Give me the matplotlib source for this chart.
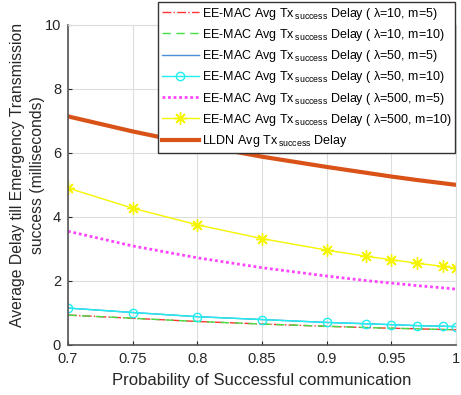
import numpy as np
import matplotlib.pyplot as plt

plt.rcParams['font.family'] = ['Liberation Sans', 'DejaVu Sans']
plt.rcParams['mathtext.fontset'] = 'custom'
plt.rcParams['mathtext.rm'] = 'Liberation Sans'
plt.rcParams['mathtext.it'] = 'Liberation Sans'

# Data
p = [0.7, 0.75, 0.8, 0.85, 0.9, 0.93, 0.95, 0.97, 0.99, 1.0]
ee_10_5 = [0.93, 0.83, 0.73, 0.65, 0.58, 0.54, 0.52, 0.50, 0.48, 0.47]
ee_10_10 = [0.93, 0.83, 0.73, 0.65, 0.58, 0.54, 0.52, 0.50, 0.48, 0.47]
ee_50_5 = [1.15, 1.01, 0.88, 0.79, 0.70, 0.66, 0.63, 0.60, 0.58, 0.57]
ee_50_10 = [1.15, 1.01, 0.88, 0.79, 0.70, 0.66, 0.63, 0.60, 0.58, 0.57]
ee_500_5 = [3.55, 3.09, 2.72, 2.41, 2.15, 2.01, 1.93, 1.85, 1.78, 1.74]
ee_500_10 = [4.90, 4.27, 3.75, 3.32, 2.96, 2.77, 2.66, 2.55, 2.45, 2.40]
lldn = [7.14, 6.67, 6.25, 5.88, 5.56, 5.38, 5.26, 5.15, 5.05, 5.00]

fig = plt.figure(figsize=(4.61, 3.95), dpi=100)
ax = fig.add_axes([0.1475, 0.127, 0.842, 0.81])

sub = r'Tx$\,_{\mathrm{success}}$'
tx = 'EE-MAC Avg ' + sub + r' Delay ( $\lambda$=%s, m=%s)'
ax.plot(p, ee_10_5, color='#ff3333', linestyle='-.', lw=1, label=tx % (10, 5))
ax.plot(p, ee_10_10, color='#44dd44', linestyle=(0, (6, 4)), lw=1, label=tx % (10, 10))
ax.plot(p, ee_50_5, color='#4a90d9', linestyle='-', lw=1, label=tx % (50, 5))
ax.plot(p, ee_50_10, color='#22eeee', linestyle='-', lw=1, marker='o', ms=6,
        mfc='none', mew=1, label=tx % (50, 10))
ax.plot(p, ee_500_5, color='#ff44ff', linestyle=(0, (1, 1)), lw=2, label=tx % (500, 5))
ax.plot(p, ee_500_10, color='#f5f500', linestyle='-', lw=1, marker=(8, 2, 0), ms=9,
        mew=1, label=tx % (500, 10))
ax.plot(p, lldn, color='#d95319', linestyle='-', lw=3,
        label='LLDN Avg ' + sub + ' Delay')

ax.set_xlim(0.7, 1.0)
ax.set_ylim(0, 10)
ax.set_xticks([0.7, 0.75, 0.8, 0.85, 0.9, 0.95, 1.0])
ax.set_xticklabels(['0.7', '0.75', '0.8', '0.85', '0.9', '0.95', '1'])
ax.set_yticks([0, 2, 4, 6, 8, 10])
ax.grid(True, color='#dddddd', lw=0.8)
ax.tick_params(labelsize=10.5, colors='#262626', direction='in', length=3, pad=5)
for s in ['left', 'bottom']:
    ax.spines[s].set_color('#555555')
    ax.spines[s].set_linewidth(1.2)
for s in ['top', 'right']:
    ax.spines[s].set_color('#dddddd')

ax.set_xlabel('Probability of Successful communication', fontsize=12,
              color='#262626', labelpad=5)
ax.set_ylabel('Average Delay till Emergency Transmission\nsuccess (milliseconds)',
              fontsize=11.3, color='#262626', linespacing=1.45)
ax.yaxis.set_label_coords(-0.058, 0.53)

leg = ax.legend(loc='upper right', bbox_to_anchor=(0.997, 1.072), fontsize=9,
                frameon=True, fancybox=False, edgecolor='#333333', framealpha=1,
                handlelength=3.0, handletextpad=0.2, borderpad=0.3,
                labelspacing=0.42, borderaxespad=0)
leg.get_frame().set_linewidth(1)

fig.savefig('out.png', dpi=100)
